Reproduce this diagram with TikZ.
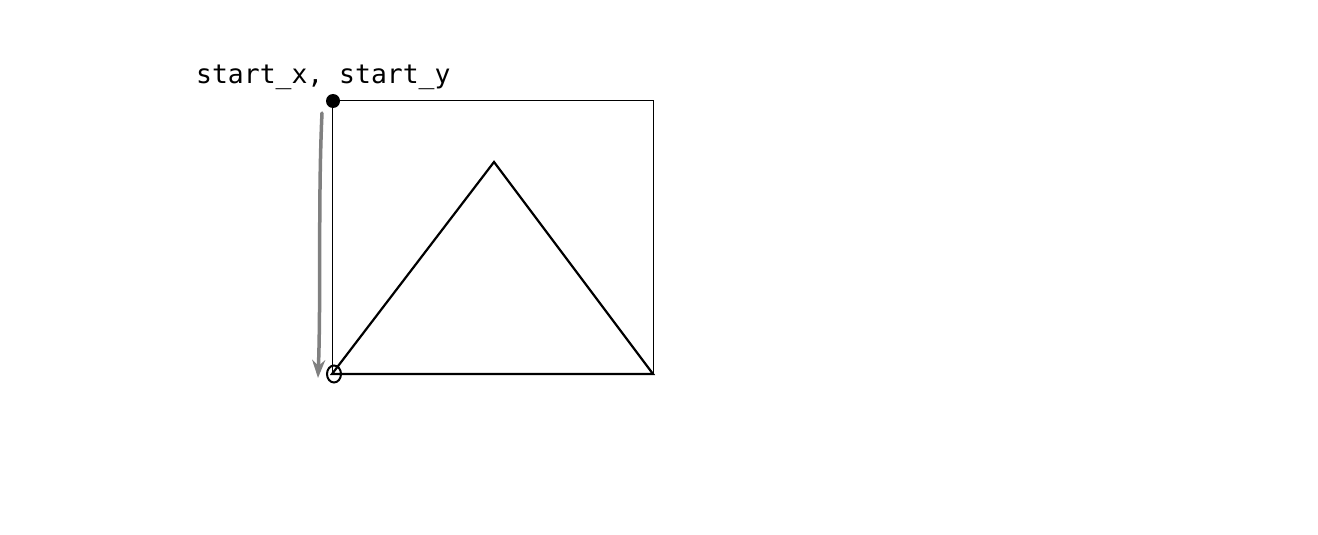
\documentclass[tikz,border=0pt]{standalone}
\usepackage{fontspec}
\usetikzlibrary{arrows.meta}
\newfontfamily\codefont{DejaVu Sans Mono}
\begin{document}
\begin{tikzpicture}[x=1pt,y=-1pt]
  \useasboundingbox (0,0) rectangle (1318,535);
  % box and triangle
  \coordinate (tl) at (332.5,100.5);
  \coordinate (br) at (653.5,374.5);
  \coordinate (bl) at (332,374);
  \coordinate (apex) at (494,162);
  \coordinate (br2) at (653,374);
  \draw[line width=1pt] (tl) rectangle (br);
  \draw[line width=2.2pt,line join=miter] (bl) -- (apex) -- (br2) -- cycle;
  \fill (333,101) circle[radius=7];
  \draw[line width=2pt] (334,374) ellipse[x radius=7,y radius=8.5];
  \node[anchor=base west,inner sep=0pt,font=\codefont\fontsize{26.4}{30}\selectfont]
    (lbl) at (196,84) {start\_x, start\_y};
  % hand drawn arrow
  \coordinate (arrtop) at (322,113);
  \coordinate (arrbot) at (318,378);
  \draw[black!50,line width=3.5pt,line cap=round,-{Stealth[length=18pt,width=13pt]}]
    (arrtop) .. controls (318,200) and (321,300) .. (arrbot);
\end{tikzpicture}
\end{document}
